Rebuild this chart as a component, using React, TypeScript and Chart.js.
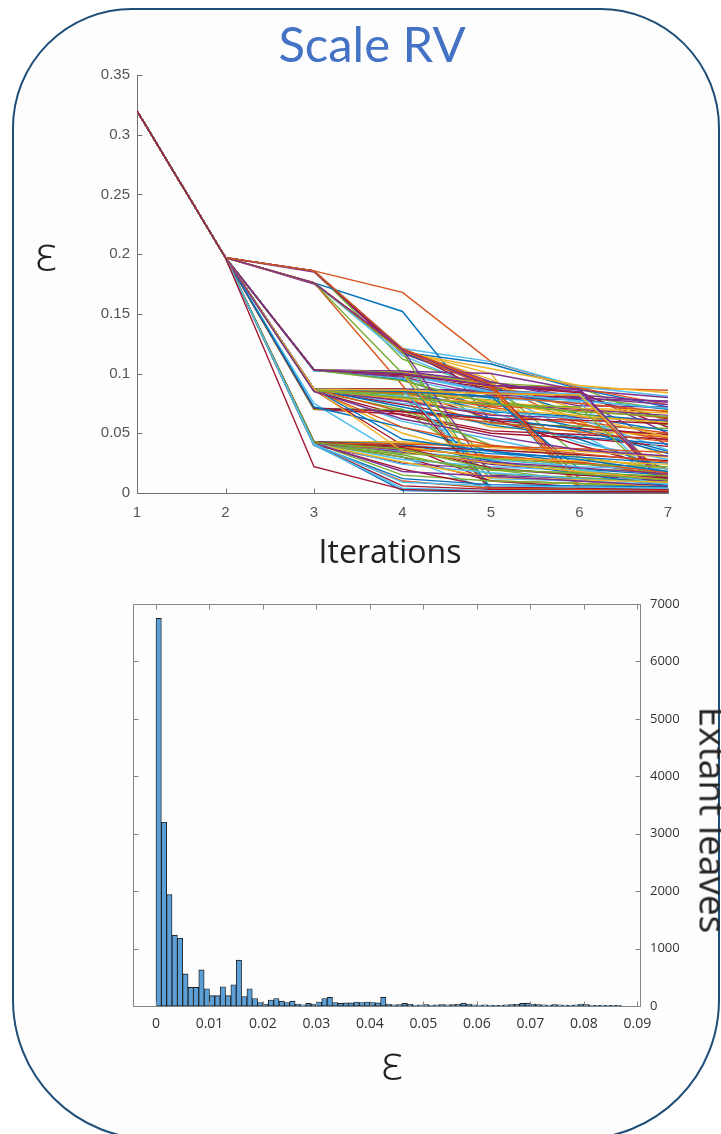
import React, { useEffect, useRef } from "react";
import { Chart, registerables } from "chart.js";

Chart.register(...registerables);

// ---------- top chart data ----------
const iterations = [1, 2, 3, 4, 5, 6, 7];
const epsTicks = [0, 0.05, 0.1, 0.15, 0.2, 0.25, 0.3, 0.35];

const pathsFrom186 = [
  [0.32, 0.197, 0.186, 0.118, 0.108, 0.087, 0.072],
  [0.32, 0.197, 0.186, 0.168, 0.11, 0.088, 0.086],
  [0.32, 0.197, 0.186, 0.12, 0.095, 0.06, 0.03],
  [0.32, 0.197, 0.185, 0.117, 0.09, 0.085, 0.05],
  [0.32, 0.197, 0.186, 0.112, 0.087, 0.081, 0.07],
  [0.32, 0.197, 0.186, 0.121, 0.11, 0.089, 0.081],
  [0.32, 0.197, 0.186, 0.118, 0.09, 0.084, 0.055],
];
const pathsFrom176 = [
  [0.32, 0.197, 0.176, 0.152, 0.06, 0.045, 0.02],
  [0.32, 0.197, 0.176, 0.09, 0.003, 0.002, 0.001],
  [0.32, 0.197, 0.176, 0.118, 0.104, 0.09, 0.084],
  [0.32, 0.197, 0.175, 0.12, 0.093, 0.078, 0.04],
  [0.32, 0.197, 0.176, 0.1, 0.092, 0.088, 0.06],
  [0.32, 0.197, 0.176, 0.115, 0.085, 0.05, 0.01],
  [0.32, 0.197, 0.176, 0.12, 0.083, 0.08, 0.062],
  [0.32, 0.197, 0.176, 0.118, 0.089, 0.066, 0.06],
  [0.32, 0.197, 0.176, 0.12, 0.092, 0.057, 0.046],
  [0.32, 0.197, 0.176, 0.119, 0.1, 0.003, 0.002],
];
const pathsFrom103 = [
  [0.32, 0.197, 0.103, 0.102, 0.1, 0.086, 0.08],
  [0.32, 0.197, 0.103, 0.101, 0.092, 0.03, 0.012],
  [0.32, 0.197, 0.102, 0.1, 0.003, 0.002, 0.001],
  [0.32, 0.197, 0.103, 0.098, 0.088, 0.087, 0.005],
  [0.32, 0.197, 0.103, 0.095, 0.07, 0.055, 0.035],
  [0.32, 0.197, 0.103, 0.1, 0.09, 0.088, 0.074],
  [0.32, 0.197, 0.103, 0.1, 0.091, 0.07, 0.067],
  [0.32, 0.197, 0.103, 0.099, 0.086, 0.073, 0.072],
  [0.32, 0.197, 0.103, 0.1, 0.058, 0.056, 0.054],
  [0.32, 0.197, 0.103, 0.096, 0.079, 0.076, 0.003],
];
const pathsFrom087 = [
  [0.32, 0.197, 0.087, 0.086, 0.062, 0.04, 0.02],
  [0.32, 0.197, 0.087, 0.085, 0.08, 0.078, 0.07],
  [0.32, 0.197, 0.086, 0.083, 0.072, 0.06, 0.05],
  [0.32, 0.197, 0.087, 0.05, 0.03, 0.02, 0.01],
  [0.32, 0.197, 0.086, 0.08, 0.075, 0.07, 0.065],
  [0.32, 0.197, 0.085, 0.07, 0.02, 0.01, 0.005],
  [0.32, 0.197, 0.087, 0.06, 0.045, 0.03, 0.02],
  [0.32, 0.197, 0.086, 0.04, 0.01, 0.008, 0.005],
  [0.32, 0.197, 0.087, 0.087, 0.085, 0.004, 0.002],
  [0.32, 0.197, 0.086, 0.078, 0.066, 0.058, 0.044],
  [0.32, 0.197, 0.085, 0.084, 0.055, 0.052, 0.048],
  [0.32, 0.197, 0.087, 0.087, 0.086, 0.082, 0.076],
  [0.32, 0.197, 0.086, 0.082, 0.004, 0.003, 0.002],
  [0.32, 0.197, 0.087, 0.075, 0.068, 0.042, 0.028],
  [0.32, 0.197, 0.085, 0.065, 0.05, 0.046, 0.039],
  [0.32, 0.197, 0.087, 0.086, 0.068, 0.064, 0.052],
  [0.32, 0.197, 0.087, 0.087, 0.073, 0.069, 0.063],
];
const pathsFrom070 = [
  [0.32, 0.197, 0.07, 0.07, 0.04, 0.03, 0.02],
  [0.32, 0.197, 0.075, 0.03, 0.002, 0.002, 0.001],
  [0.32, 0.197, 0.071, 0.068, 0.062, 0.061, 0.058],
  [0.32, 0.197, 0.072, 0.055, 0.035, 0.025, 0.015],
];
const pathsFrom042 = [
  [0.32, 0.197, 0.042, 0.04, 0.035, 0.02, 0.01],
  [0.32, 0.197, 0.042, 0.03, 0.01, 0.005, 0.002],
  [0.32, 0.197, 0.041, 0.002, 0.001, 0.001, 0.001],
  [0.32, 0.197, 0.04, 0.038, 0.03, 0.025, 0.015],
  [0.32, 0.197, 0.042, 0.042, 0.04, 0.03, 0.02],
  [0.32, 0.197, 0.04, 0.025, 0.02, 0.015, 0.01],
  [0.32, 0.197, 0.042, 0.015, 0.01, 0.008, 0.004],
  [0.32, 0.197, 0.04, 0.035, 0.028, 0.022, 0.02],
  [0.32, 0.197, 0.041, 0.02, 0.005, 0.004, 0.003],
  [0.32, 0.197, 0.042, 0.04, 0.033, 0.03, 0.025],
  [0.32, 0.197, 0.04, 0.01, 0.004, 0.003, 0.002],
  [0.32, 0.197, 0.043, 0.043, 0.038, 0.035, 0.03],
  [0.32, 0.197, 0.042, 0.036, 0.024, 0.018, 0.012],
  [0.32, 0.197, 0.041, 0.032, 0.016, 0.013, 0.009],
  [0.32, 0.197, 0.042, 0.028, 0.022, 0.019, 0.007],
  [0.32, 0.197, 0.04, 0.006, 0.003, 0.002, 0.001],
  [0.32, 0.197, 0.043, 0.041, 0.027, 0.016, 0.006],
  [0.32, 0.197, 0.041, 0.037, 0.031, 0.026, 0.017],
];
const pathsFrom022 = [[0.32, 0.197, 0.022, 0.003, 0.001, 0.001, 0.001]];

const pathsHoldThenDrop = [
  [0.32, 0.197, 0.087, 0.085, 0.084, 0.083, 0.004],
  [0.32, 0.197, 0.103, 0.101, 0.089, 0.002, 0.001],
  [0.32, 0.197, 0.186, 0.12, 0.09, 0.087, 0.003],
  [0.32, 0.197, 0.176, 0.118, 0.002, 0.001, 0.001],
  [0.32, 0.197, 0.103, 0.1, 0.085, 0.083, 0.01],
  [0.32, 0.197, 0.087, 0.087, 0.002, 0.001, 0.001],
  [0.32, 0.197, 0.103, 0.1, 0.004, 0.003, 0.002],
  [0.32, 0.197, 0.176, 0.119, 0.088, 0.004, 0.003],
  [0.32, 0.197, 0.103, 0.1, 0.01, 0.008, 0.006],
  [0.32, 0.197, 0.176, 0.12, 0.015, 0.012, 0.01],
  [0.32, 0.197, 0.103, 0.101, 0.025, 0.02, 0.018],
  [0.32, 0.197, 0.087, 0.086, 0.012, 0.01, 0.007],
  [0.32, 0.197, 0.103, 0.099, 0.09, 0.012, 0.01],
  [0.32, 0.197, 0.087, 0.085, 0.081, 0.02, 0.015],
  [0.32, 0.197, 0.186, 0.121, 0.091, 0.006, 0.004],
  [0.32, 0.197, 0.087, 0.086, 0.083, 0.082, 0.012],
  [0.32, 0.197, 0.103, 0.1, 0.09, 0.087, 0.008],
  [0.32, 0.197, 0.086, 0.08, 0.074, 0.072, 0.002],
];
const pathsMidBand = [
  [0.32, 0.197, 0.087, 0.079, 0.076, 0.071, 0.069],
  [0.32, 0.197, 0.086, 0.077, 0.065, 0.063, 0.061],
  [0.32, 0.197, 0.087, 0.083, 0.078, 0.066, 0.057],
  [0.32, 0.197, 0.085, 0.081, 0.069, 0.062, 0.036],
  [0.32, 0.197, 0.086, 0.074, 0.061, 0.054, 0.049],
  [0.32, 0.197, 0.087, 0.072, 0.057, 0.047, 0.041],
  [0.32, 0.197, 0.087, 0.084, 0.081, 0.075, 0.068],
  [0.32, 0.197, 0.086, 0.086, 0.077, 0.064, 0.059],
  [0.32, 0.197, 0.103, 0.097, 0.082, 0.079, 0.077],
  [0.32, 0.197, 0.103, 0.094, 0.075, 0.068, 0.064],
  [0.32, 0.197, 0.103, 0.099, 0.084, 0.077, 0.071],
  [0.32, 0.197, 0.07, 0.066, 0.052, 0.049, 0.045],
  [0.32, 0.197, 0.071, 0.069, 0.063, 0.053, 0.033],
  [0.32, 0.197, 0.087, 0.068, 0.059, 0.051, 0.043],
  [0.32, 0.197, 0.086, 0.079, 0.07, 0.065, 0.047],
  [0.32, 0.197, 0.103, 0.102, 0.093, 0.08, 0.074],
];
const pathsLowBand = [
  [0.32, 0.197, 0.042, 0.039, 0.029, 0.027, 0.024],
  [0.32, 0.197, 0.042, 0.034, 0.026, 0.021, 0.016],
  [0.32, 0.197, 0.041, 0.03, 0.019, 0.017, 0.014],
  [0.32, 0.197, 0.042, 0.024, 0.017, 0.012, 0.008],
  [0.32, 0.197, 0.043, 0.039, 0.036, 0.032, 0.027],
  [0.32, 0.197, 0.04, 0.012, 0.007, 0.006, 0.005],
  [0.32, 0.197, 0.042, 0.041, 0.039, 0.037, 0.034],
  [0.32, 0.197, 0.041, 0.026, 0.013, 0.011, 0.009],
  [0.32, 0.197, 0.042, 0.018, 0.014, 0.01, 0.006],
  [0.32, 0.197, 0.043, 0.033, 0.029, 0.024, 0.022],
  [0.32, 0.197, 0.04, 0.004, 0.002, 0.002, 0.001],
  [0.32, 0.197, 0.042, 0.038, 0.021, 0.015, 0.013],
  [0.32, 0.197, 0.087, 0.045, 0.035, 0.028, 0.018],
  [0.32, 0.197, 0.086, 0.055, 0.04, 0.033, 0.026],
  [0.32, 0.197, 0.087, 0.035, 0.025, 0.018, 0.011],
  [0.32, 0.197, 0.085, 0.062, 0.048, 0.036, 0.031],
  [0.32, 0.197, 0.042, 0.037, 0.02, 0.016, 0.011],
  [0.32, 0.197, 0.041, 0.009, 0.006, 0.005, 0.004],
];

const lineColors = ["#0072BD", "#D95319", "#EDB120", "#7E2F8E", "#77AC30", "#4DBEEE", "#A2142F"];

// ---------- histogram data ----------
const binWidth = 0.001;
const leafCounts = [
  6750, 3200, 1940, 1235, 1180, 560, 325, 325, 630, 300,
  180, 180, 335, 180, 370, 800, 165, 300, 130, 60,
  35, 105, 130, 85, 60, 85, 35, 20, 45, 35,
  70, 130, 150, 60, 45, 55, 55, 70, 60, 70,
  60, 55, 150, 35, 20, 25, 45, 30, 15, 20,
  25, 15, 20, 25, 20, 25, 30, 50, 35, 20,
  15, 20, 15, 10, 10, 20, 25, 30, 45, 50,
  35, 25, 20, 15, 25, 20, 15, 10, 20, 35,
  25, 15, 10, 15, 10, 10, 10,
];
const histXTicks = [0, 0.01, 0.02, 0.03, 0.04, 0.05, 0.06, 0.07, 0.08, 0.09];
const histYTicks = [0, 1000, 2000, 3000, 4000, 5000, 6000, 7000];

const fmt = (v: number) => String(Number(v.toFixed(3)));

const topAxesPlugin = {
  id: "topAxes",
  beforeDatasetsDraw(chart: any) {
    const { ctx, chartArea: a, scales } = chart;
    const x = scales.x, y = scales.y;
    const L = Math.round(a.left) + 0.5;
    const B = Math.round(a.bottom) + 0.5;
    ctx.save();
    ctx.strokeStyle = "#707070";
    ctx.lineWidth = 1;
    ctx.beginPath();
    ctx.moveTo(L, Math.round(a.top));
    ctx.lineTo(L, B);
    ctx.lineTo(Math.round(a.right) + 1, B);
    y.ticks.forEach((t: any) => {
      const py = Math.round(y.getPixelForValue(t.value)) + 0.5;
      ctx.moveTo(L, py);
      ctx.lineTo(L + 5, py);
    });
    x.ticks.forEach((t: any) => {
      const px = Math.round(x.getPixelForValue(t.value)) + 0.5;
      ctx.moveTo(px, B);
      ctx.lineTo(px, B - 5);
    });
    ctx.stroke();
    ctx.restore();
  },
};

const boxAxesPlugin = {
  id: "boxAxes",
  afterDatasetsDraw(chart: any) {
    const { ctx, chartArea: a, scales } = chart;
    const x = scales.x, y = scales.y;
    const L = Math.round(a.left) + 0.5;
    const R = Math.round(a.right) + 0.5;
    const T = Math.round(a.top) + 0.5;
    const B = Math.round(a.bottom) + 0.5;
    ctx.save();
    ctx.strokeStyle = "#858585";
    ctx.lineWidth = 1;
    ctx.beginPath();
    ctx.rect(L, T, R - L, B - T);
    x.ticks.forEach((t: any) => {
      const px = Math.round(x.getPixelForValue(t.value)) + 0.5;
      ctx.moveTo(px, B);
      ctx.lineTo(px, B - 5);
      ctx.moveTo(px, T);
      ctx.lineTo(px, T + 5);
    });
    y.ticks.forEach((t: any) => {
      const py = Math.round(y.getPixelForValue(t.value)) + 0.5;
      ctx.moveTo(R, py);
      ctx.lineTo(R - 5, py);
      ctx.moveTo(L, py);
      ctx.lineTo(L + 5, py);
    });
    ctx.stroke();
    ctx.restore();
  },
};

export default function App() {
  const topRef = useRef<HTMLCanvasElement | null>(null);
  const botRef = useRef<HTMLCanvasElement | null>(null);

  useEffect(() => {
    const allPaths = [
      ...pathsFrom186,
      ...pathsFrom176,
      ...pathsFrom103,
      ...pathsFrom087,
      ...pathsMidBand,
      ...pathsFrom070,
      ...pathsHoldThenDrop,
      ...pathsFrom042,
      ...pathsLowBand,
      ...pathsFrom022,
    ];
    // colours follow plotting order; Chart.js draws dataset 0 on top,
    // so the list is reversed to keep the last-plotted path uppermost.
    const lineDatasets = allPaths
      .map((p, i) => ({
        data: iterations.map((it, k) => ({ x: it, y: p[k] })),
        borderColor: lineColors[i % lineColors.length],
        borderWidth: 1.4,
        pointRadius: 0,
        tension: 0,
        fill: false,
      }))
      .reverse();

    const top = new Chart(topRef.current!, {
      type: "line",
      data: { datasets: lineDatasets },
      options: {
        animation: false,
        responsive: false,
        events: [],
        layout: { padding: { top: 75, left: 0, right: 53, bottom: 0 } },
        plugins: { legend: { display: false }, tooltip: { enabled: false } },
        scales: {
          x: {
            type: "linear",
            min: 1,
            max: 7,
            grid: { display: false, drawTicks: false },
            border: { display: false },
            afterBuildTicks: (s: any) => {
              s.ticks = iterations.map((v) => ({ value: v }));
            },
            afterFit: (s: any) => {
              s.height = 77;
            },
            ticks: {
              padding: 11,
              color: "#555",
              font: { family: "Liberation Sans", size: 15 },
              callback: (v: any) => fmt(Number(v)),
            },
          },
          y: {
            type: "linear",
            min: 0,
            max: 0.35,
            grid: { display: false, drawTicks: false },
            border: { display: false },
            afterBuildTicks: (s: any) => {
              s.ticks = epsTicks.map((v) => ({ value: v }));
            },
            afterFit: (s: any) => {
              s.width = 137;
            },
            ticks: {
              padding: 7,
              color: "#555",
              font: { family: "Liberation Sans", size: 15 },
              callback: (v: any) => fmt(Number(v)),
            },
          },
        },
      },
      plugins: [topAxesPlugin],
    } as any);

    const bot = new Chart(botRef.current!, {
      type: "bar",
      data: {
        datasets: [
          {
            data: leafCounts.map((c, i) => ({ x: (i + 0.5) * binWidth, y: c })),
            backgroundColor: "#5b9fd6",
            borderColor: "#1a1a1a",
            borderWidth: 0.9,
            borderSkipped: false,
            barPercentage: 1,
            categoryPercentage: 1,
          },
        ],
      },
      options: {
        animation: false,
        responsive: false,
        events: [],
        layout: { padding: { top: 24, left: 133, right: 0, bottom: 0 } },
        plugins: { legend: { display: false }, tooltip: { enabled: false } },
        scales: {
          x: {
            type: "linear",
            min: -0.0043,
            max: 0.0905,
            offset: false,
            grid: { display: false, offset: false, drawTicks: false },
            border: { display: false },
            afterBuildTicks: (s: any) => {
              s.ticks = histXTicks.map((v) => ({ value: v }));
            },
            afterFit: (s: any) => {
              s.height = 128;
            },
            ticks: {
              padding: 10,
              color: "#333",
              font: { family: "Open Sans", size: 14 },
              callback: (v: any) => fmt(Number(v)),
            },
          },
          y: {
            type: "linear",
            position: "right",
            min: 0,
            max: 7000,
            grid: { display: false, drawTicks: false },
            border: { display: false },
            afterBuildTicks: (s: any) => {
              s.ticks = histYTicks.map((v) => ({ value: v }));
            },
            afterFit: (s: any) => {
              s.width = 81;
            },
            ticks: {
              padding: 10,
              color: "#333",
              font: { family: "Open Sans", size: 13 },
              callback: (v: any) => String(v),
            },
          },
        },
      },
      plugins: [boxAxesPlugin],
    } as any);

    return () => {
      top.destroy();
      bot.destroy();
    };
  }, []);

  const abs: React.CSSProperties = { position: "absolute", margin: 0, whiteSpace: "nowrap", lineHeight: 1 };

  return (
    <div
      style={{
        position: "absolute",
        left: 0,
        top: 0,
        width: 721,
        height: 1134,
        overflow: "hidden",
        background: "#ffffff",
      }}
    >
      <div
        style={{
          position: "absolute",
          left: 12,
          top: 8,
          width: 708,
          height: 1132,
          boxSizing: "border-box",
          border: "2.5px solid #1f4e79",
          borderRadius: "120px 120px 140px 140px",
          background: "#fdfdfd",
        }}
      />
      <div
        style={{
          ...abs,
          left: 0,
          width: 744,
          top: 19,
          textAlign: "center",
          fontFamily: "Lato",
          fontSize: 49,
          color: "#4472c4",
        }}
      >
        Scale RV
      </div>
      <canvas
        ref={topRef}
        width={721}
        height={570}
        style={{ position: "absolute", left: 0, top: 0, width: 721, height: 570, display: "block" }}
      />
      <canvas
        ref={botRef}
        width={721}
        height={554}
        style={{ position: "absolute", left: 0, top: 580, width: 721, height: 554, display: "block" }}
      />
      <div
        style={{
          ...abs,
          left: 46,
          top: 229,
          transform: "translateX(-50%)",
          fontFamily: "Open Sans",
          fontWeight: 300,
          fontSize: 48,
          color: "#222",
        }}
      >
        ε
      </div>
      <div
        style={{
          ...abs,
          left: 390,
          top: 535,
          transform: "translateX(-50%)",
          fontFamily: "Open Sans",
          fontSize: 32,
          color: "#222",
        }}
      >
        Iterations
      </div>
      <div
        style={{
          ...abs,
          left: 392,
          top: 1038,
          transform: "translateX(-50%)",
          fontFamily: "Open Sans",
          fontWeight: 300,
          fontSize: 48,
          color: "#222",
        }}
      >
        ε
      </div>
      <div
        style={{
          ...abs,
          left: 714,
          top: 820,
          transform: "translate(-50%, -50%) rotate(90deg)",
          fontFamily: "Open Sans",
          fontSize: 37,
          color: "#222",
        }}
      >
        Extant leaves
      </div>
    </div>
  );
}
